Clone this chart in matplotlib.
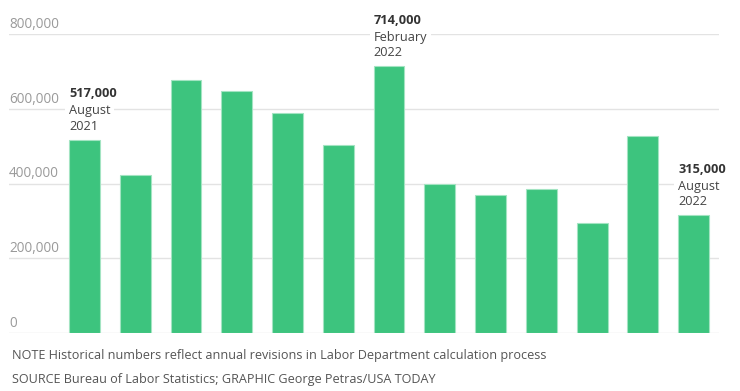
import matplotlib.pyplot as plt
from matplotlib.transforms import blended_transform_factory

plt.rcParams['font.family'] = ['Open Sans', 'DejaVu Sans']

months = ["Aug 2021", "Sep 2021", "Oct 2021", "Nov 2021", "Dec 2021", "Jan 2022",
          "Feb 2022", "Mar 2022", "Apr 2022", "May 2022", "Jun 2022", "Jul 2022", "Aug 2022"]
jobs = [517000, 424000, 677000, 647000, 588000, 504000, 714000,
        398000, 368000, 386000, 293000, 526000, 315000]
y_ticks = [0, 200000, 400000, 600000, 800000]

# which bars get a callout: index -> (month, year)
callouts = {0: ("August", "2021"), 6: ("February", "2022"), 12: ("August", "2022")}

note = "NOTE Historical numbers reflect annual revisions in Labor Department calculation process"
source = "SOURCE Bureau of Labor Statistics; GRAPHIC George Petras/USA TODAY"

bar_color = "#3dc47e"
grid_color = "#e3e3e3"

fig = plt.figure(figsize=(7.4, 3.91), dpi=100)
ax = fig.add_axes([9 / 740, 1 - 333 / 391, 710 / 740, (333 - 34) / 391])

x = list(range(len(jobs)))
width = 0.61
ax.bar(x, jobs, width=width, color=bar_color, edgecolor="#a3e4c2", linewidth=0.8, zorder=2)

ax.set_xlim(-1.488, 12.502)
ax.set_ylim(0, 800000)
ax.axis("off")

for t in y_ticks:
    ax.axhline(t, color=grid_color, linewidth=1, zorder=0)

trans = blended_transform_factory(ax.transAxes, ax.transData)
for t in y_ticks:
    ax.annotate("{:,}".format(t), xy=(0, t), xycoords=trans, xytext=(0, 1.5),
                textcoords="offset points", ha="left", va="bottom",
                fontsize=9.8, color="#9a9a9a", zorder=3)

white = dict(boxstyle="square,pad=0.3", fc="white", ec="none")
for i, (m, yr) in callouts.items():
    left = x[i] - width / 2
    ax.annotate("{}\n{}".format(m, yr), xy=(left, jobs[i]), xytext=(0, 5),
                textcoords="offset points", ha="left", va="bottom",
                fontsize=9.2, color="#444444", linespacing=1.25, bbox=white, zorder=5)
    ax.annotate("{:,}".format(jobs[i]), xy=(left, jobs[i]), xytext=(0, 28.5),
                textcoords="offset points", ha="left", va="bottom",
                fontsize=9.2, fontweight="bold", color="#333333", bbox=white, zorder=5)

fig.text(12 / 740, 1 - 356 / 391, note, fontsize=9.1, color="#555555", va="center")
fig.text(12 / 740, 1 - 379 / 391, source, fontsize=9.1, color="#555555", va="center")

plt.savefig("out.png", dpi=100)
